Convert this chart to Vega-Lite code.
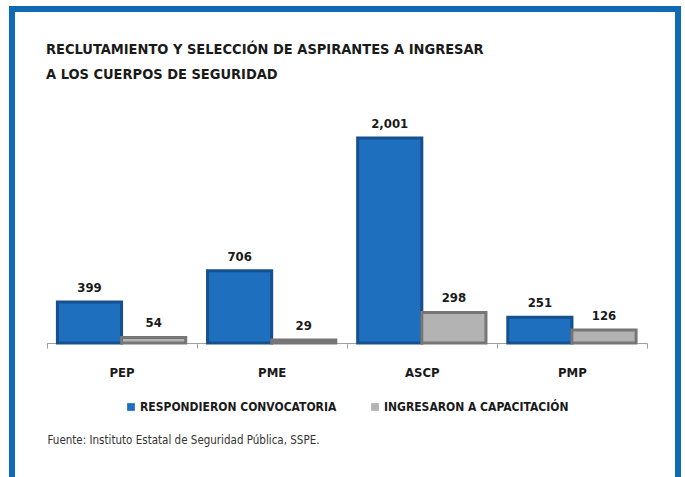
{
  "$schema": "https://vega.github.io/schema/vega-lite/v6.json",
  "width": 666,
  "height": 478,
  "autosize": {"type": "none"},
  "padding": {"left": 12, "top": 9, "right": 7, "bottom": -10},
  "background": "white",
  "config": {
    "view": {"stroke": "#0e6ab5", "strokeWidth": 6, "fill": "white"}
  },
  "title": {
    "text": ["RECLUTAMIENTO Y SELECCIÓN DE ASPIRANTES A INGRESAR", "A LOS CUERPOS DE SEGURIDAD"],
    "anchor": "start",
    "frame": "group",
    "dx": 34,
    "offset": -73,
    "font": "DejaVu Sans Condensed, sans-serif",
    "fontSize": 14.5,
    "fontWeight": "bold",
    "lineHeight": 25,
    "color": "#1a1a1a"
  },
  "data": {
    "values": [
      {"cuerpo": "PEP", "serie": "RESPONDIERON CONVOCATORIA", "valor": 399},
      {"cuerpo": "PEP", "serie": "INGRESARON A CAPACITACIÓN", "valor": 54},
      {"cuerpo": "PME", "serie": "RESPONDIERON CONVOCATORIA", "valor": 706},
      {"cuerpo": "PME", "serie": "INGRESARON A CAPACITACIÓN", "valor": 29},
      {"cuerpo": "ASCP", "serie": "RESPONDIERON CONVOCATORIA", "valor": 2001},
      {"cuerpo": "ASCP", "serie": "INGRESARON A CAPACITACIÓN", "valor": 298},
      {"cuerpo": "PMP", "serie": "RESPONDIERON CONVOCATORIA", "valor": 251},
      {"cuerpo": "PMP", "serie": "INGRESARON A CAPACITACIÓN", "valor": 126}
    ]
  },
  "encoding": {
    "x": {
      "field": "cuerpo",
      "type": "nominal",
      "sort": ["PEP", "PME", "ASCP", "PMP"],
      "scale": {"range": [34.5, 635], "paddingInner": 0, "paddingOuter": 0},
      "axis": {
        "orient": "bottom",
        "offset": -144,
        "title": "Fuente: Instituto Estatal de Seguridad Pública, SSPE.",
        "titleX": 35,
        "titleY": 97,
        "titleAlign": "left",
        "titleBaseline": "middle",
        "titleFont": "DejaVu Sans Condensed, sans-serif",
        "titleFontSize": 11.5,
        "titleFontWeight": "normal",
        "titleColor": "#333333",
        "labelAngle": 0,
        "labelFont": "DejaVu Sans Condensed, sans-serif",
        "labelFontSize": 13,
        "labelFontWeight": "bold",
        "labelColor": "#1a1a1a",
        "labelPadding": 18,
        "domainColor": "#a0a0a0",
        "tickColor": "#a0a0a0",
        "tickSize": 5,
        "tickBand": "extent",
        "grid": false
      }
    },
    "xOffset": {
      "field": "serie",
      "type": "nominal",
      "sort": ["RESPONDIERON CONVOCATORIA", "INGRESARON A CAPACITACIÓN"],
      "scale": {"paddingOuter": 0.17, "paddingInner": 0}
    },
    "y": {
      "field": "valor",
      "type": "quantitative",
      "scale": {"domain": [-1405.6, 3260.2], "nice": false},
      "axis": null
    }
  },
  "layer": [
    {
      "mark": {"type": "bar", "strokeWidth": 3},
      "encoding": {
        "color": {
          "field": "serie",
          "type": "nominal",
          "sort": ["RESPONDIERON CONVOCATORIA", "INGRESARON A CAPACITACIÓN"],
          "scale": {"range": ["#1f6fbf", "#b3b3b3"]},
          "legend": {
            "orient": "none",
            "legendX": 113,
            "legendY": 392,
            "direction": "horizontal",
            "title": null,
            "symbolType": "square",
            "symbolSize": 60,
            "symbolStrokeWidth": 0,
            "labelFont": "DejaVu Sans Condensed, sans-serif",
            "labelFontSize": 12,
            "labelFontWeight": "bold",
            "labelColor": "#1a1a1a",
            "labelLimit": 0,
            "labelOffset": 3,
            "columnPadding": 32
          }
        },
        "stroke": {
          "field": "serie",
          "type": "nominal",
          "sort": ["RESPONDIERON CONVOCATORIA", "INGRESARON A CAPACITACIÓN"],
          "scale": {"range": ["#16508e", "#767676"]},
          "legend": null
        }
      }
    },
    {
      "mark": {
        "type": "text",
        "dy": -14,
        "font": "DejaVu Sans Condensed, sans-serif",
        "fontSize": 13,
        "fontWeight": "bold",
        "color": "#1a1a1a"
      },
      "encoding": {
        "text": {"field": "valor", "type": "quantitative", "format": ","}
      }
    }
  ]
}
